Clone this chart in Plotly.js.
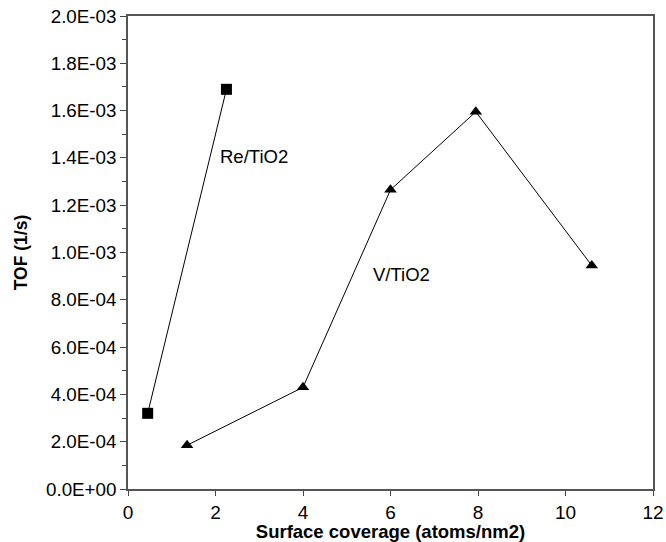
<!DOCTYPE html>
<html><head><meta charset="utf-8">
<script src="https://cdn.plot.ly/plotly-3.0.1.min.js"></script>
<style>body{margin:0;background:#fff}#c{width:666px;height:542px}</style>
</head><body><div id="c"></div>
<script>
const reX = [0.45, 2.25];
const reY = [3.2e-4, 1.69e-3];
const vX = [1.35, 4.0, 6.0, 7.95, 10.6];
const vY = [1.85e-4, 4.3e-4, 1.265e-3, 1.595e-3, 9.45e-4];
const yTickVals = [0, 2e-4, 4e-4, 6e-4, 8e-4, 1e-3, 1.2e-3, 1.4e-3, 1.6e-3, 1.8e-3, 2e-3];
const yTickText = ["0.0E+00","2.0E-04","4.0E-04","6.0E-04","8.0E-04","1.0E-03","1.2E-03","1.4E-03","1.6E-03","1.8E-03","2.0E-03"];
const xTickVals = [0, 2, 4, 6, 8, 10, 12];
const labels = [{text: "Re/TiO2", x: 2.88, y: 1.404e-3}, {text: "V/TiO2", x: 6.24, y: 9.09e-4}];

const font = "Liberation Sans, Arial, sans-serif";
const traces = [
  {x: reX, y: reY, mode: "lines+markers", line: {color: "#000", width: 1},
   marker: {symbol: "square", size: 11, color: "#000"}, name: "Re/TiO2"},
  {x: vX, y: vY, mode: "lines+markers", line: {color: "#000", width: 1},
   marker: {symbol: "triangle-up", size: 11, color: "#000"}, name: "V/TiO2"}
];
const layout = {
  width: 666, height: 542, showlegend: false,
  margin: {l: 128, r: 13, t: 16, b: 53},
  paper_bgcolor: "#fff", plot_bgcolor: "#fff",
  font: {family: font, size: 18, color: "#000"},
  xaxis: {range: [0, 12], tickvals: xTickVals, ticks: "outside", ticklen: 5, tickcolor: "#444",
    showline: true, linecolor: "#555", linewidth: 1.5, mirror: true, showgrid: false, zeroline: false,
    tickfont: {size: 19}, title: {text: "<b>Surface coverage (atoms/nm2)</b>", font: {size: 18.5}, standoff: 3}},
  yaxis: {range: [0, 2e-3], tickvals: yTickVals, ticktext: yTickText, ticks: "outside", ticklen: 6, tickcolor: "#444",
    minor: {dtick: 1e-4, ticks: "outside", ticklen: 4, tickcolor: "#444"},
    showline: true, linecolor: "#555", linewidth: 1.5, mirror: true, showgrid: false, zeroline: false,
    tickfont: {size: 18.8}, title: {text: "<b>TOF (1/s)</b>", font: {size: 17.5}, standoff: 14}},
  annotations: labels.map(l => ({text: l.text, x: l.x, y: l.y, xref: "x", yref: "y",
    showarrow: false, font: {size: 18.5, family: font}}))
};
Plotly.newPlot("c", traces, layout, {displayModeBar: false});
</script></body></html>
